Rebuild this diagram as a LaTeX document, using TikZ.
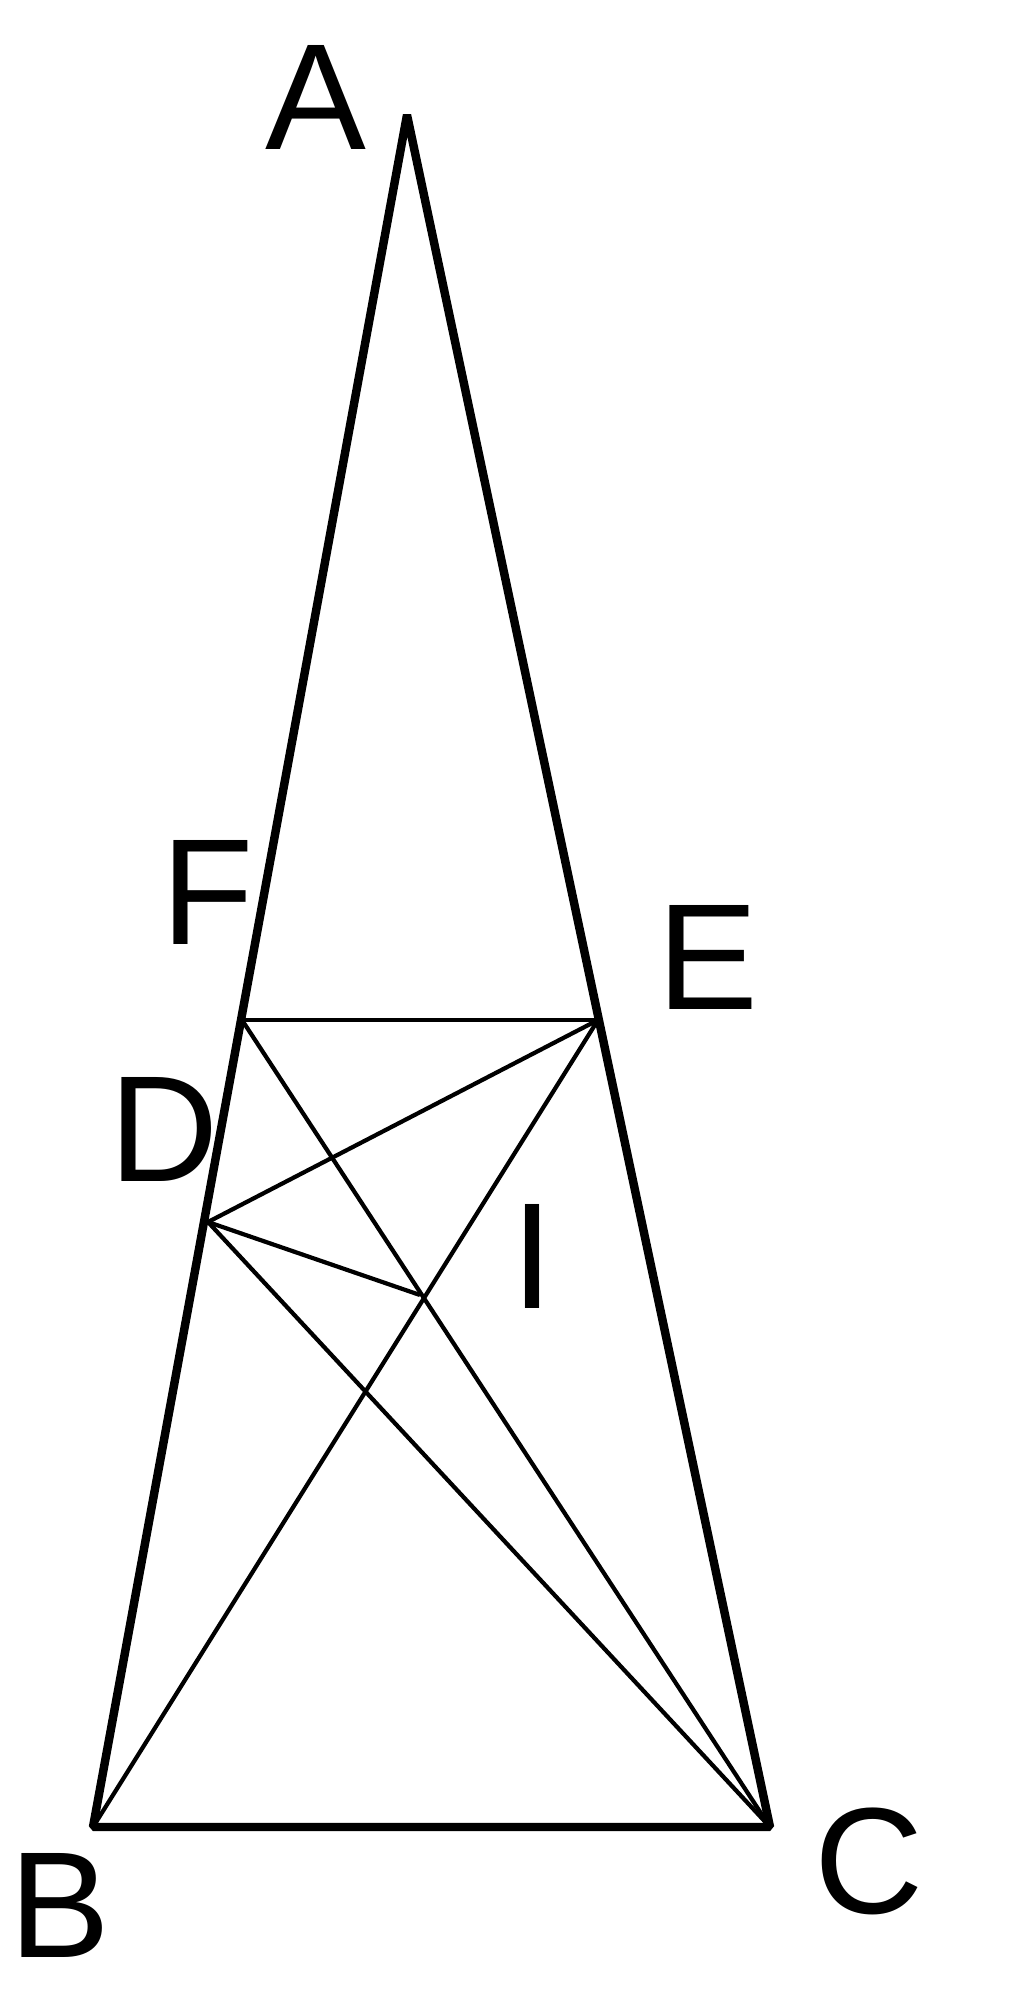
\documentclass[tikz,border=0pt]{standalone}
\usepackage{fontspec}
\setmainfont{Liberation Sans}
\usetikzlibrary{positioning}

\begin{document}
\begin{tikzpicture}[x=0.01cm, y=-0.01cm,
		side/.style={line width=2.4pt, line join=bevel},
		chord/.style={line width=1.2pt},
		lbl/.style={inner sep=0pt, font=\fontsize{43}{50}\selectfont}]
		\useasboundingbox (0,0) rectangle (1024,2010);
		% points
		\coordinate (A) at (407,115);
		\coordinate (B) at (93,1827);
		\coordinate (C) at (770,1827);
		\coordinate (F) at (242,1020);
		\coordinate (E) at (598,1020);
		\coordinate (D) at (208,1222);
		\coordinate (I) at (420,1295);
		% triangle
		\draw[side] (A) -- (B) -- (C) -- cycle;
		% inner lines
		\draw[chord] (F) -- (E);
		\draw[chord] (F) -- (C);
		\draw[chord] (B) -- (E);
		\draw[chord] (D) -- (E);
		\draw[chord] (D) -- (I);
		\draw[chord] (D) -- (C);
		% labels
		\node[lbl] (lA) at (316,97) {A};
		\node[lbl] (lB) at (60,1905) {B};
		\node[lbl] (lC) at (869,1861) {C};
		\node[lbl] (lD) at (164,1129) {D};
		\node[lbl] (lE) at (708,957) {E};
		\node[lbl] (lF) at (208,892) {F};
		\node[lbl] (lI) at (532,1256) {I};
	\end{tikzpicture}
\end{document}
